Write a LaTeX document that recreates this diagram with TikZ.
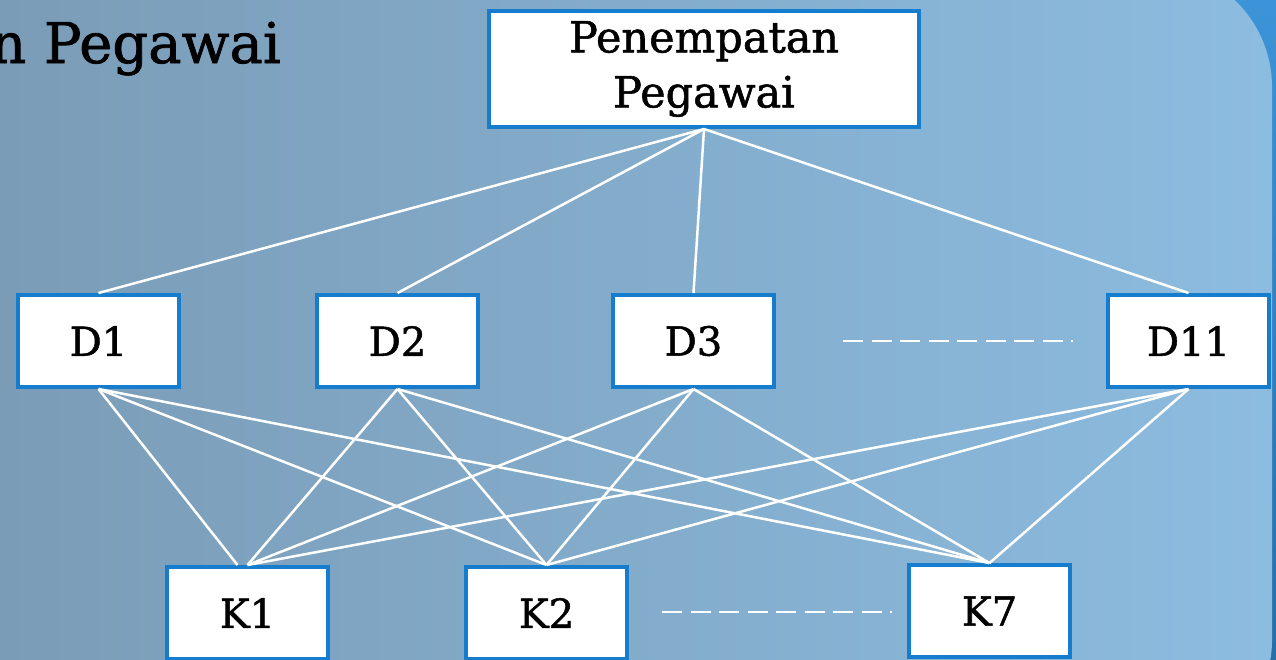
\documentclass[tikz,border=0pt]{standalone}
\usepackage{fontspec}
\setmainfont{DejaVu Serif}[FakeBold=1.3]
\usetikzlibrary{calc}
\definecolor{boxblue}{RGB}{22,124,206}
\definecolor{bgleft}{RGB}{120,151,176}
\definecolor{bgright}{RGB}{140,188,224}
\definecolor{outertop}{RGB}{60,148,216}
\definecolor{outerbot}{RGB}{40,110,168}
\tikzset{
  boxnode/.style={draw=boxblue, line width=4pt, fill=white, inner sep=0pt,
    font=\fontsize{40}{55}\selectfont, align=center},
  dbox/.style={boxnode, minimum width=161pt, minimum height=92pt},
  link/.style={white, line width=2.5pt},
  dots/.style={white, line width=2pt, dash pattern=on 20pt off 8.5pt}
}
\begin{document}
\begin{tikzpicture}[x=1pt,y=-1pt]
\useasboundingbox (0,0) rectangle (1276,659);
% background
\shade[top color=outertop, bottom color=outerbot] (0,0) rectangle (1276,659);
\shade[left color=bgleft, right color=bgright, rounded corners=120pt] (-200,-33) rectangle (1272,760);
% title fragment
\node[anchor=base east, inner sep=0pt, font=\fontsize{56}{60}\selectfont] (title) at (281,63) {n Pegawai};
% nodes
\node[boxnode, minimum width=430pt, minimum height=116pt, font=\fontsize{43}{55}\selectfont] (top) at (704,69) {Penempatan\\Pegawai};
\node[dbox] (D1) at (98.5,341) {D1};
\node[dbox] (D2) at (397.5,341) {D2};
\node[dbox] (D3) at (693.5,341) {D3};
\node[dbox] (D11) at (1188.5,341) {D11};
\node[dbox] (K1) at (247.5,613) {K1};
\node[dbox] (K2) at (546.5,613) {K2};
\node[dbox] (K7) at (989.5,611) {K7};
% dashed continuation marks
\coordinate (da) at (843,341);
\coordinate (db) at (1073,341);
\coordinate (ka) at (662,612);
\coordinate (kb) at (892,612);
\draw[dots] (da) -- (db);
\draw[dots] (ka) -- (kb);
% connectors top -> D
\foreach \d in {D1,D2,D3,D11}
  \draw[link] (top.south) -- (\d.north);
% connectors D -> K
\draw[link] (D1.south) -- ([xshift=-10pt]K1.north);
\foreach \d in {D2,D3,D11}
  \draw[link] (\d.south) -- (K1.north);
\foreach \d in {D1,D2,D3,D11}
  \foreach \k in {K2,K7}
    \draw[link] (\d.south) -- (\k.north);
\end{tikzpicture}
\end{document}
